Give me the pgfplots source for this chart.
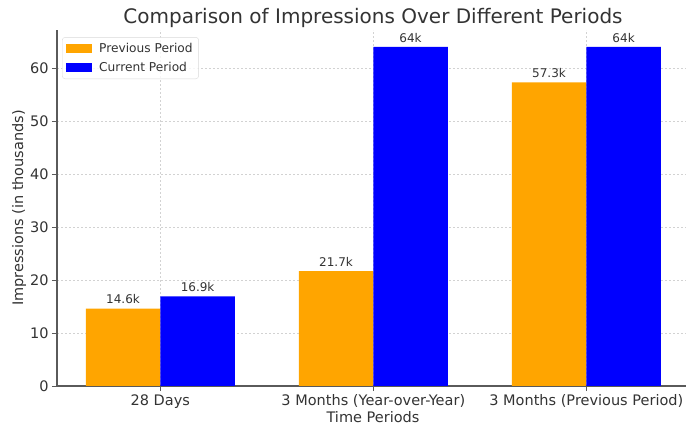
\documentclass[border=0pt]{standalone}
\usepackage{fontspec}
\setmainfont{DejaVu Sans}
\usepackage{pgfplots}
\pgfplotsset{compat=1.18}
\definecolor{barorange}{RGB}{255,165,0}
\definecolor{barblue}{RGB}{0,0,255}
\definecolor{txt}{RGB}{51,51,51}
\definecolor{spine}{RGB}{90,90,90}
\begin{document}
\begin{tikzpicture}
\useasboundingbox (0,0) rectangle (686bp,427bp);
\begin{axis}[
  at={(57bp,41bp)}, anchor=south west,
  scale only axis,
  width=629bp, height=356bp,
  xmin=-0.485, xmax=2.468,
  ymin=0, ymax=67.2,
  axis x line*=bottom, axis y line*=left,
  axis line style={spine, line width=1.2bp, -},
  xtick={0,1,2},
  xticklabels={28 Days, 3 Months (Year-over-Year), 3 Months (Previous Period)},
  ytick={0,10,20,30,40,50,60},
  tick align=outside,
  major tick length=5bp,
  tick style={spine, line width=0.8bp},
  tick label style={font=\fontsize{14.5bp}{17bp}\selectfont, text=txt},
  /pgf/number format/assume math mode=true,
  grid=major,
  grid style={gray!35, dash pattern=on 2bp off 2bp, line width=0.6bp},
  ybar, bar width=0.35,
  nodes near coords={\pgfmathprintnumber[fixed,precision=1]{\pgfplotspointmeta}k},
  nodes near coords style={font=\fontsize{12bp}{14bp}\selectfont, text=txt, anchor=south, inner sep=0pt, yshift=4.5bp},
  legend style={at={(0.008,0.98)}, anchor=north west,
    draw=gray!30, rounded corners=3bp, fill=white, fill opacity=0.8, text opacity=1,
    font=\fontsize{12.2bp}{14bp}\selectfont, text=txt,
    inner xsep=4bp, inner ysep=4bp, row sep=4bp},
  legend cell align=left,
  legend image code/.code={\fill[#1, sharp corners, fill opacity=1] (0bp,-4.5bp) rectangle (26bp,4.5bp); \path (31bp,0bp);},
]
\addplot[fill=barorange, draw=none, bar shift=-0.175] coordinates {(0,14.6) (1,21.7) (2,57.3)};
\addplot[fill=barblue, draw=none, bar shift=0.175] coordinates {(0,16.9) (1,64) (2,64)};
\legend{Previous Period, Current Period}
\end{axis}
\node[anchor=base, font=\fontsize{20bp}{23bp}\selectfont, text=txt] at (373bp,403bp) {Comparison of Impressions Over Different Periods};
\node[anchor=base, font=\fontsize{14.5bp}{17bp}\selectfont, text=txt] at (373bp,5bp) {Time Periods};
\node[rotate=90, font=\fontsize{14.5bp}{17bp}\selectfont, text=txt] at (19bp,219bp) {Impressions (in thousands)};
\end{tikzpicture}
\end{document}
